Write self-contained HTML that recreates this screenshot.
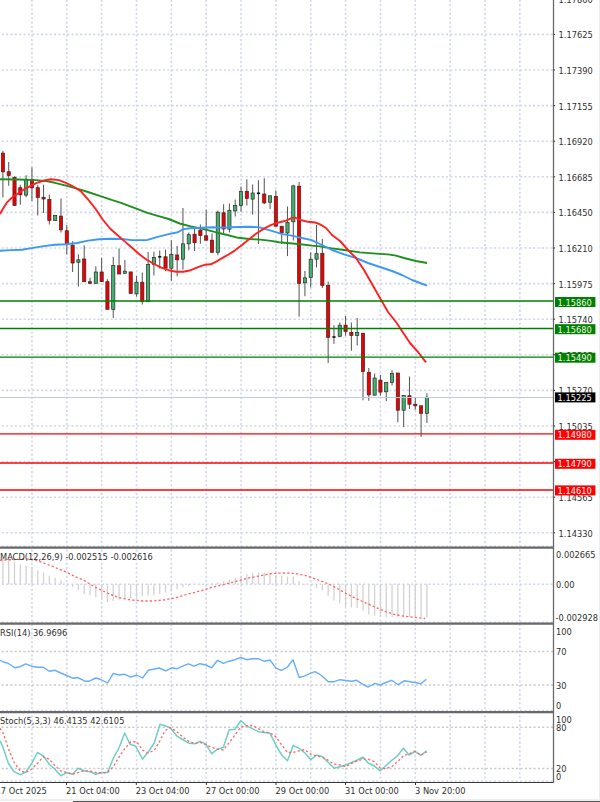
<!DOCTYPE html>
<html><head><meta charset="utf-8"><title>EURUSD H4</title>
<style>html,body{margin:0;padding:0;background:#fff;width:600px;height:802px;overflow:hidden}</style>
</head><body>
<svg width="600" height="802" viewBox="0 0 600 802" style="display:block"><rect x="0" y="0" width="600" height="802" fill="#ffffff"/><g stroke="#d0d7ea" stroke-width="1.6" fill="none"><line x1="0" y1="34.40" x2="553.0" y2="34.40" stroke-dasharray="2.1 2.255" stroke-dashoffset="2.6"/><line x1="0" y1="70.00" x2="553.0" y2="70.00" stroke-dasharray="2.1 2.255" stroke-dashoffset="2.6"/><line x1="0" y1="105.60" x2="553.0" y2="105.60" stroke-dasharray="2.1 2.255" stroke-dashoffset="2.6"/><line x1="0" y1="141.20" x2="553.0" y2="141.20" stroke-dasharray="2.1 2.255" stroke-dashoffset="2.6"/><line x1="0" y1="176.80" x2="553.0" y2="176.80" stroke-dasharray="2.1 2.255" stroke-dashoffset="2.6"/><line x1="0" y1="212.40" x2="553.0" y2="212.40" stroke-dasharray="2.1 2.255" stroke-dashoffset="2.6"/><line x1="0" y1="248.00" x2="553.0" y2="248.00" stroke-dasharray="2.1 2.255" stroke-dashoffset="2.6"/><line x1="0" y1="283.60" x2="553.0" y2="283.60" stroke-dasharray="2.1 2.255" stroke-dashoffset="2.6"/><line x1="0" y1="319.20" x2="553.0" y2="319.20" stroke-dasharray="2.1 2.255" stroke-dashoffset="2.6"/><line x1="0" y1="354.80" x2="553.0" y2="354.80" stroke-dasharray="2.1 2.255" stroke-dashoffset="2.6"/><line x1="0" y1="390.40" x2="553.0" y2="390.40" stroke-dasharray="2.1 2.255" stroke-dashoffset="2.6"/><line x1="0" y1="426.00" x2="553.0" y2="426.00" stroke-dasharray="2.1 2.255" stroke-dashoffset="2.6"/><line x1="0" y1="461.60" x2="553.0" y2="461.60" stroke-dasharray="2.1 2.255" stroke-dashoffset="2.6"/><line x1="0" y1="497.20" x2="553.0" y2="497.20" stroke-dasharray="2.1 2.255" stroke-dashoffset="2.6"/><line x1="0" y1="532.80" x2="553.0" y2="532.80" stroke-dasharray="2.1 2.255" stroke-dashoffset="2.6"/><line x1="31.95" y1="0" x2="31.95" y2="546" stroke-dasharray="2.1 2.264" stroke-dashoffset="0.27"/><line x1="31.95" y1="549" x2="31.95" y2="622" stroke-dasharray="2.1 2.264" stroke-dashoffset="3.77"/><line x1="31.95" y1="625" x2="31.95" y2="711" stroke-dasharray="2.1 2.264" stroke-dashoffset="1.22"/><line x1="31.95" y1="714" x2="31.95" y2="781" stroke-dasharray="2.1 2.264" stroke-dashoffset="2.94"/><line x1="66.80" y1="0" x2="66.80" y2="546" stroke-dasharray="2.1 2.264" stroke-dashoffset="0.27"/><line x1="66.80" y1="549" x2="66.80" y2="622" stroke-dasharray="2.1 2.264" stroke-dashoffset="3.77"/><line x1="66.80" y1="625" x2="66.80" y2="711" stroke-dasharray="2.1 2.264" stroke-dashoffset="1.22"/><line x1="66.80" y1="714" x2="66.80" y2="781" stroke-dasharray="2.1 2.264" stroke-dashoffset="2.94"/><line x1="101.65" y1="0" x2="101.65" y2="546" stroke-dasharray="2.1 2.264" stroke-dashoffset="0.27"/><line x1="101.65" y1="549" x2="101.65" y2="622" stroke-dasharray="2.1 2.264" stroke-dashoffset="3.77"/><line x1="101.65" y1="625" x2="101.65" y2="711" stroke-dasharray="2.1 2.264" stroke-dashoffset="1.22"/><line x1="101.65" y1="714" x2="101.65" y2="781" stroke-dasharray="2.1 2.264" stroke-dashoffset="2.94"/><line x1="136.50" y1="0" x2="136.50" y2="546" stroke-dasharray="2.1 2.264" stroke-dashoffset="0.27"/><line x1="136.50" y1="549" x2="136.50" y2="622" stroke-dasharray="2.1 2.264" stroke-dashoffset="3.77"/><line x1="136.50" y1="625" x2="136.50" y2="711" stroke-dasharray="2.1 2.264" stroke-dashoffset="1.22"/><line x1="136.50" y1="714" x2="136.50" y2="781" stroke-dasharray="2.1 2.264" stroke-dashoffset="2.94"/><line x1="171.35" y1="0" x2="171.35" y2="546" stroke-dasharray="2.1 2.264" stroke-dashoffset="0.27"/><line x1="171.35" y1="549" x2="171.35" y2="622" stroke-dasharray="2.1 2.264" stroke-dashoffset="3.77"/><line x1="171.35" y1="625" x2="171.35" y2="711" stroke-dasharray="2.1 2.264" stroke-dashoffset="1.22"/><line x1="171.35" y1="714" x2="171.35" y2="781" stroke-dasharray="2.1 2.264" stroke-dashoffset="2.94"/><line x1="206.20" y1="0" x2="206.20" y2="546" stroke-dasharray="2.1 2.264" stroke-dashoffset="0.27"/><line x1="206.20" y1="549" x2="206.20" y2="622" stroke-dasharray="2.1 2.264" stroke-dashoffset="3.77"/><line x1="206.20" y1="625" x2="206.20" y2="711" stroke-dasharray="2.1 2.264" stroke-dashoffset="1.22"/><line x1="206.20" y1="714" x2="206.20" y2="781" stroke-dasharray="2.1 2.264" stroke-dashoffset="2.94"/><line x1="241.05" y1="0" x2="241.05" y2="546" stroke-dasharray="2.1 2.264" stroke-dashoffset="0.27"/><line x1="241.05" y1="549" x2="241.05" y2="622" stroke-dasharray="2.1 2.264" stroke-dashoffset="3.77"/><line x1="241.05" y1="625" x2="241.05" y2="711" stroke-dasharray="2.1 2.264" stroke-dashoffset="1.22"/><line x1="241.05" y1="714" x2="241.05" y2="781" stroke-dasharray="2.1 2.264" stroke-dashoffset="2.94"/><line x1="275.90" y1="0" x2="275.90" y2="546" stroke-dasharray="2.1 2.264" stroke-dashoffset="0.27"/><line x1="275.90" y1="549" x2="275.90" y2="622" stroke-dasharray="2.1 2.264" stroke-dashoffset="3.77"/><line x1="275.90" y1="625" x2="275.90" y2="711" stroke-dasharray="2.1 2.264" stroke-dashoffset="1.22"/><line x1="275.90" y1="714" x2="275.90" y2="781" stroke-dasharray="2.1 2.264" stroke-dashoffset="2.94"/><line x1="310.75" y1="0" x2="310.75" y2="546" stroke-dasharray="2.1 2.264" stroke-dashoffset="0.27"/><line x1="310.75" y1="549" x2="310.75" y2="622" stroke-dasharray="2.1 2.264" stroke-dashoffset="3.77"/><line x1="310.75" y1="625" x2="310.75" y2="711" stroke-dasharray="2.1 2.264" stroke-dashoffset="1.22"/><line x1="310.75" y1="714" x2="310.75" y2="781" stroke-dasharray="2.1 2.264" stroke-dashoffset="2.94"/><line x1="345.60" y1="0" x2="345.60" y2="546" stroke-dasharray="2.1 2.264" stroke-dashoffset="0.27"/><line x1="345.60" y1="549" x2="345.60" y2="622" stroke-dasharray="2.1 2.264" stroke-dashoffset="3.77"/><line x1="345.60" y1="625" x2="345.60" y2="711" stroke-dasharray="2.1 2.264" stroke-dashoffset="1.22"/><line x1="345.60" y1="714" x2="345.60" y2="781" stroke-dasharray="2.1 2.264" stroke-dashoffset="2.94"/><line x1="380.45" y1="0" x2="380.45" y2="546" stroke-dasharray="2.1 2.264" stroke-dashoffset="0.27"/><line x1="380.45" y1="549" x2="380.45" y2="622" stroke-dasharray="2.1 2.264" stroke-dashoffset="3.77"/><line x1="380.45" y1="625" x2="380.45" y2="711" stroke-dasharray="2.1 2.264" stroke-dashoffset="1.22"/><line x1="380.45" y1="714" x2="380.45" y2="781" stroke-dasharray="2.1 2.264" stroke-dashoffset="2.94"/><line x1="415.30" y1="0" x2="415.30" y2="546" stroke-dasharray="2.1 2.264" stroke-dashoffset="0.27"/><line x1="415.30" y1="549" x2="415.30" y2="622" stroke-dasharray="2.1 2.264" stroke-dashoffset="3.77"/><line x1="415.30" y1="625" x2="415.30" y2="711" stroke-dasharray="2.1 2.264" stroke-dashoffset="1.22"/><line x1="415.30" y1="714" x2="415.30" y2="781" stroke-dasharray="2.1 2.264" stroke-dashoffset="2.94"/><line x1="450.15" y1="0" x2="450.15" y2="546" stroke-dasharray="2.1 2.264" stroke-dashoffset="0.27"/><line x1="450.15" y1="549" x2="450.15" y2="622" stroke-dasharray="2.1 2.264" stroke-dashoffset="3.77"/><line x1="450.15" y1="625" x2="450.15" y2="711" stroke-dasharray="2.1 2.264" stroke-dashoffset="1.22"/><line x1="450.15" y1="714" x2="450.15" y2="781" stroke-dasharray="2.1 2.264" stroke-dashoffset="2.94"/><line x1="485.00" y1="0" x2="485.00" y2="546" stroke-dasharray="2.1 2.264" stroke-dashoffset="0.27"/><line x1="485.00" y1="549" x2="485.00" y2="622" stroke-dasharray="2.1 2.264" stroke-dashoffset="3.77"/><line x1="485.00" y1="625" x2="485.00" y2="711" stroke-dasharray="2.1 2.264" stroke-dashoffset="1.22"/><line x1="485.00" y1="714" x2="485.00" y2="781" stroke-dasharray="2.1 2.264" stroke-dashoffset="2.94"/><line x1="519.85" y1="0" x2="519.85" y2="546" stroke-dasharray="2.1 2.264" stroke-dashoffset="0.27"/><line x1="519.85" y1="549" x2="519.85" y2="622" stroke-dasharray="2.1 2.264" stroke-dashoffset="3.77"/><line x1="519.85" y1="625" x2="519.85" y2="711" stroke-dasharray="2.1 2.264" stroke-dashoffset="1.22"/><line x1="519.85" y1="714" x2="519.85" y2="781" stroke-dasharray="2.1 2.264" stroke-dashoffset="2.94"/><line x1="0" y1="546.2" x2="553.0" y2="546.2" stroke-dasharray="2.1 2.255" stroke-dashoffset="2.6"/><line x1="0" y1="622.2" x2="553.0" y2="622.2" stroke-dasharray="2.1 2.255" stroke-dashoffset="2.6"/><line x1="0" y1="710.6" x2="553.0" y2="710.6" stroke-dasharray="2.1 2.255" stroke-dashoffset="2.6"/><line x1="0" y1="781.3" x2="553.0" y2="781.3" stroke-dasharray="2.1 2.255" stroke-dashoffset="2.6"/><line x1="0" y1="584.3" x2="553.0" y2="584.3" stroke-dasharray="2.1 2.255" stroke-dashoffset="2.6"/></g><g stroke="#cacaca" stroke-width="1.5" stroke-dasharray="2.1 2.26" stroke-dashoffset="2.8" fill="none"><line x1="0" y1="651.4" x2="553.0" y2="651.4"/><line x1="0" y1="685.1" x2="553.0" y2="685.1"/><line x1="0" y1="727.2" x2="553.0" y2="727.2"/><line x1="0" y1="768.4" x2="553.0" y2="768.4"/></g><line x1="2.90" y1="151" x2="2.90" y2="197.5" stroke="#5a5a5a" stroke-width="1.05"/><line x1="8.71" y1="161.9" x2="8.71" y2="185.7" stroke="#5a5a5a" stroke-width="1.05"/><line x1="14.52" y1="176.3" x2="14.52" y2="205.5" stroke="#5a5a5a" stroke-width="1.05"/><line x1="20.32" y1="184.7" x2="20.32" y2="204.7" stroke="#5a5a5a" stroke-width="1.05"/><line x1="26.13" y1="175.2" x2="26.13" y2="197.3" stroke="#5a5a5a" stroke-width="1.05"/><line x1="31.94" y1="167.6" x2="31.94" y2="201.1" stroke="#5a5a5a" stroke-width="1.05"/><line x1="37.75" y1="185" x2="37.75" y2="215.6" stroke="#5a5a5a" stroke-width="1.05"/><line x1="43.56" y1="184.8" x2="43.56" y2="213.1" stroke="#5a5a5a" stroke-width="1.05"/><line x1="49.36" y1="194.4" x2="49.36" y2="224.4" stroke="#5a5a5a" stroke-width="1.05"/><line x1="55.17" y1="215" x2="55.17" y2="221" stroke="#5a5a5a" stroke-width="1.05"/><line x1="60.98" y1="198.6" x2="60.98" y2="232.6" stroke="#5a5a5a" stroke-width="1.05"/><line x1="66.79" y1="225" x2="66.79" y2="254.2" stroke="#5a5a5a" stroke-width="1.05"/><line x1="72.60" y1="241.2" x2="72.60" y2="272" stroke="#5a5a5a" stroke-width="1.05"/><line x1="78.40" y1="254.2" x2="78.40" y2="286.6" stroke="#5a5a5a" stroke-width="1.05"/><line x1="84.21" y1="245.2" x2="84.21" y2="281.7" stroke="#5a5a5a" stroke-width="1.05"/><line x1="90.02" y1="277.7" x2="90.02" y2="284" stroke="#5a5a5a" stroke-width="1.05"/><line x1="95.83" y1="266.3" x2="95.83" y2="283.3" stroke="#5a5a5a" stroke-width="1.05"/><line x1="101.64" y1="257.9" x2="101.64" y2="281.7" stroke="#5a5a5a" stroke-width="1.05"/><line x1="107.44" y1="279.3" x2="107.44" y2="309.3" stroke="#5a5a5a" stroke-width="1.05"/><line x1="113.25" y1="256.8" x2="113.25" y2="317.9" stroke="#5a5a5a" stroke-width="1.05"/><line x1="119.06" y1="248.6" x2="119.06" y2="274" stroke="#5a5a5a" stroke-width="1.05"/><line x1="124.87" y1="260" x2="124.87" y2="273.3" stroke="#5a5a5a" stroke-width="1.05"/><line x1="130.68" y1="271.9" x2="130.68" y2="293.5" stroke="#5a5a5a" stroke-width="1.05"/><line x1="136.48" y1="276" x2="136.48" y2="296.6" stroke="#5a5a5a" stroke-width="1.05"/><line x1="142.29" y1="272.6" x2="142.29" y2="304.4" stroke="#5a5a5a" stroke-width="1.05"/><line x1="148.10" y1="252" x2="148.10" y2="301.7" stroke="#5a5a5a" stroke-width="1.05"/><line x1="153.91" y1="251.8" x2="153.91" y2="275.4" stroke="#5a5a5a" stroke-width="1.05"/><line x1="159.72" y1="250.4" x2="159.72" y2="268.5" stroke="#5a5a5a" stroke-width="1.05"/><line x1="165.52" y1="249.6" x2="165.52" y2="271.2" stroke="#5a5a5a" stroke-width="1.05"/><line x1="171.33" y1="240.2" x2="171.33" y2="280.8" stroke="#5a5a5a" stroke-width="1.05"/><line x1="177.14" y1="246.1" x2="177.14" y2="276.3" stroke="#5a5a5a" stroke-width="1.05"/><line x1="182.95" y1="208.1" x2="182.95" y2="269.5" stroke="#5a5a5a" stroke-width="1.05"/><line x1="188.76" y1="232.4" x2="188.76" y2="250.2" stroke="#5a5a5a" stroke-width="1.05"/><line x1="194.56" y1="227.6" x2="194.56" y2="250.9" stroke="#5a5a5a" stroke-width="1.05"/><line x1="200.37" y1="224.6" x2="200.37" y2="243.8" stroke="#5a5a5a" stroke-width="1.05"/><line x1="206.18" y1="209.8" x2="206.18" y2="240.2" stroke="#5a5a5a" stroke-width="1.05"/><line x1="211.99" y1="233.4" x2="211.99" y2="252.3" stroke="#5a5a5a" stroke-width="1.05"/><line x1="217.80" y1="210.5" x2="217.80" y2="255.3" stroke="#5a5a5a" stroke-width="1.05"/><line x1="223.60" y1="204.3" x2="223.60" y2="233.1" stroke="#5a5a5a" stroke-width="1.05"/><line x1="229.41" y1="203.6" x2="229.41" y2="232.4" stroke="#5a5a5a" stroke-width="1.05"/><line x1="235.22" y1="199.5" x2="235.22" y2="216.6" stroke="#5a5a5a" stroke-width="1.05"/><line x1="241.03" y1="186.5" x2="241.03" y2="211.8" stroke="#5a5a5a" stroke-width="1.05"/><line x1="246.84" y1="179.3" x2="246.84" y2="205.4" stroke="#5a5a5a" stroke-width="1.05"/><line x1="252.64" y1="184.4" x2="252.64" y2="214.6" stroke="#5a5a5a" stroke-width="1.05"/><line x1="258.45" y1="180.3" x2="258.45" y2="244.1" stroke="#5a5a5a" stroke-width="1.05"/><line x1="264.26" y1="178.2" x2="264.26" y2="204.3" stroke="#5a5a5a" stroke-width="1.05"/><line x1="270.07" y1="195.8" x2="270.07" y2="209.1" stroke="#5a5a5a" stroke-width="1.05"/><line x1="275.88" y1="190.6" x2="275.88" y2="226.2" stroke="#5a5a5a" stroke-width="1.05"/><line x1="281.68" y1="226" x2="281.68" y2="244.1" stroke="#5a5a5a" stroke-width="1.05"/><line x1="287.49" y1="206.5" x2="287.49" y2="256.1" stroke="#5a5a5a" stroke-width="1.05"/><line x1="293.30" y1="184.7" x2="293.30" y2="240.5" stroke="#5a5a5a" stroke-width="1.05"/><line x1="299.11" y1="182" x2="299.11" y2="316.7" stroke="#5a5a5a" stroke-width="1.05"/><line x1="304.92" y1="271" x2="304.92" y2="296.2" stroke="#5a5a5a" stroke-width="1.05"/><line x1="310.72" y1="252.2" x2="310.72" y2="287.5" stroke="#5a5a5a" stroke-width="1.05"/><line x1="316.53" y1="224.9" x2="316.53" y2="267.6" stroke="#5a5a5a" stroke-width="1.05"/><line x1="322.34" y1="238.9" x2="322.34" y2="288" stroke="#5a5a5a" stroke-width="1.05"/><line x1="328.15" y1="281.4" x2="328.15" y2="362.9" stroke="#5a5a5a" stroke-width="1.05"/><line x1="333.96" y1="325.2" x2="333.96" y2="343.8" stroke="#5a5a5a" stroke-width="1.05"/><line x1="339.76" y1="322.6" x2="339.76" y2="337.3" stroke="#5a5a5a" stroke-width="1.05"/><line x1="345.57" y1="316" x2="345.57" y2="335.7" stroke="#5a5a5a" stroke-width="1.05"/><line x1="351.38" y1="322.6" x2="351.38" y2="350.7" stroke="#5a5a5a" stroke-width="1.05"/><line x1="357.19" y1="318" x2="357.19" y2="345.5" stroke="#5a5a5a" stroke-width="1.05"/><line x1="363.00" y1="333" x2="363.00" y2="400.3" stroke="#5a5a5a" stroke-width="1.05"/><line x1="368.80" y1="368" x2="368.80" y2="400.8" stroke="#5a5a5a" stroke-width="1.05"/><line x1="374.61" y1="373.4" x2="374.61" y2="395.2" stroke="#5a5a5a" stroke-width="1.05"/><line x1="380.42" y1="374.9" x2="380.42" y2="395.7" stroke="#5a5a5a" stroke-width="1.05"/><line x1="386.23" y1="382.4" x2="386.23" y2="401.1" stroke="#5a5a5a" stroke-width="1.05"/><line x1="392.04" y1="370.2" x2="392.04" y2="385.5" stroke="#5a5a5a" stroke-width="1.05"/><line x1="397.84" y1="373" x2="397.84" y2="422.2" stroke="#5a5a5a" stroke-width="1.05"/><line x1="403.65" y1="395.4" x2="403.65" y2="426.9" stroke="#5a5a5a" stroke-width="1.05"/><line x1="409.46" y1="376.5" x2="409.46" y2="408.9" stroke="#5a5a5a" stroke-width="1.05"/><line x1="415.27" y1="398" x2="415.27" y2="409.7" stroke="#5a5a5a" stroke-width="1.05"/><line x1="421.08" y1="405.8" x2="421.08" y2="437" stroke="#5a5a5a" stroke-width="1.05"/><line x1="426.88" y1="393.3" x2="426.88" y2="423" stroke="#5a5a5a" stroke-width="1.05"/><rect x="1.30" y="153.10" width="3.2" height="18.80" fill="#ee0000" stroke="#3a2424" stroke-width="0.7"/><rect x="7.11" y="171.70" width="3.2" height="3.70" fill="#ee0000" stroke="#3a2424" stroke-width="0.7"/><rect x="12.92" y="177.30" width="3.2" height="28.20" fill="#ee0000" stroke="#3a2424" stroke-width="0.7"/><rect x="18.72" y="187.70" width="3.2" height="7.10" fill="#ee0000" stroke="#3a2424" stroke-width="0.7"/><rect x="24.53" y="179.30" width="3.2" height="15.80" fill="#3cb371" stroke="#3a2424" stroke-width="0.7"/><rect x="30.34" y="179.30" width="3.2" height="8.50" fill="#ee0000" stroke="#3a2424" stroke-width="0.7"/><rect x="36.15" y="187.70" width="3.2" height="9.70" fill="#ee0000" stroke="#3a2424" stroke-width="0.7"/><rect x="41.96" y="197.30" width="3.2" height="1.70" fill="#ee0000" stroke="#3a2424" stroke-width="0.7"/><rect x="47.76" y="199.40" width="3.2" height="21.20" fill="#ee0000" stroke="#3a2424" stroke-width="0.7"/><rect x="53.57" y="215.30" width="3.2" height="5.30" fill="#3cb371" stroke="#3a2424" stroke-width="0.7"/><rect x="59.38" y="216.10" width="3.2" height="13.70" fill="#ee0000" stroke="#3a2424" stroke-width="0.7"/><rect x="65.19" y="230.70" width="3.2" height="12.90" fill="#ee0000" stroke="#3a2424" stroke-width="0.7"/><rect x="71.00" y="245.20" width="3.2" height="17.80" fill="#ee0000" stroke="#3a2424" stroke-width="0.7"/><rect x="76.80" y="259.80" width="3.2" height="2.50" fill="#3cb371" stroke="#3a2424" stroke-width="0.7"/><rect x="82.61" y="259.00" width="3.2" height="22.70" fill="#ee0000" stroke="#3a2424" stroke-width="0.7"/><rect x="88.42" y="281.70" width="3.2" height="1.60" fill="#ee0000" stroke="#3a2424" stroke-width="0.7"/><rect x="94.23" y="272.00" width="3.2" height="11.30" fill="#3cb371" stroke="#3a2424" stroke-width="0.7"/><rect x="100.04" y="272.00" width="3.2" height="9.70" fill="#ee0000" stroke="#3a2424" stroke-width="0.7"/><rect x="105.84" y="281.70" width="3.2" height="27.60" fill="#ee0000" stroke="#3a2424" stroke-width="0.7"/><rect x="111.65" y="265.50" width="3.2" height="43.90" fill="#3cb371" stroke="#3a2424" stroke-width="0.7"/><rect x="117.46" y="265.80" width="3.2" height="8.20" fill="#ee0000" stroke="#3a2424" stroke-width="0.7"/><rect x="123.27" y="271.20" width="3.2" height="2.10" fill="#3cb371" stroke="#3a2424" stroke-width="0.7"/><rect x="129.08" y="271.90" width="3.2" height="21.60" fill="#ee0000" stroke="#3a2424" stroke-width="0.7"/><rect x="134.88" y="282.20" width="3.2" height="11.70" fill="#3cb371" stroke="#3a2424" stroke-width="0.7"/><rect x="140.69" y="282.20" width="3.2" height="19.50" fill="#ee0000" stroke="#3a2424" stroke-width="0.7"/><rect x="146.50" y="264.40" width="3.2" height="37.30" fill="#3cb371" stroke="#3a2424" stroke-width="0.7"/><rect x="152.31" y="257.50" width="3.2" height="6.90" fill="#3cb371" stroke="#3a2424" stroke-width="0.7"/><line x1="158.12" y1="256.8" x2="161.32" y2="256.8" stroke="#1a1a1a" stroke-width="1.7"/><rect x="163.92" y="256.80" width="3.2" height="11.40" fill="#ee0000" stroke="#3a2424" stroke-width="0.7"/><rect x="169.73" y="254.50" width="3.2" height="13.70" fill="#3cb371" stroke="#3a2424" stroke-width="0.7"/><rect x="175.54" y="255.00" width="3.2" height="4.80" fill="#ee0000" stroke="#3a2424" stroke-width="0.7"/><rect x="181.35" y="243.80" width="3.2" height="15.40" fill="#3cb371" stroke="#3a2424" stroke-width="0.7"/><rect x="187.16" y="234.70" width="3.2" height="9.10" fill="#3cb371" stroke="#3a2424" stroke-width="0.7"/><rect x="192.96" y="234.20" width="3.2" height="8.50" fill="#ee0000" stroke="#3a2424" stroke-width="0.7"/><rect x="198.77" y="230.10" width="3.2" height="5.50" fill="#ee0000" stroke="#3a2424" stroke-width="0.7"/><rect x="204.58" y="235.80" width="3.2" height="4.40" fill="#ee0000" stroke="#3a2424" stroke-width="0.7"/><rect x="210.39" y="240.20" width="3.2" height="12.10" fill="#ee0000" stroke="#3a2424" stroke-width="0.7"/><rect x="216.20" y="212.20" width="3.2" height="40.10" fill="#3cb371" stroke="#3a2424" stroke-width="0.7"/><rect x="222.00" y="212.80" width="3.2" height="16.20" fill="#ee0000" stroke="#3a2424" stroke-width="0.7"/><rect x="227.81" y="210.30" width="3.2" height="18.90" fill="#3cb371" stroke="#3a2424" stroke-width="0.7"/><rect x="233.62" y="205.40" width="3.2" height="5.50" fill="#3cb371" stroke="#3a2424" stroke-width="0.7"/><rect x="239.43" y="191.30" width="3.2" height="14.10" fill="#3cb371" stroke="#3a2424" stroke-width="0.7"/><rect x="245.24" y="191.30" width="3.2" height="7.20" fill="#ee0000" stroke="#3a2424" stroke-width="0.7"/><rect x="251.04" y="193.00" width="3.2" height="6.10" fill="#3cb371" stroke="#3a2424" stroke-width="0.7"/><line x1="256.85" y1="193.3" x2="260.05" y2="193.3" stroke="#1a1a1a" stroke-width="1.7"/><rect x="262.66" y="194.00" width="3.2" height="8.90" fill="#ee0000" stroke="#3a2424" stroke-width="0.7"/><rect x="268.47" y="195.80" width="3.2" height="6.40" fill="#3cb371" stroke="#3a2424" stroke-width="0.7"/><rect x="274.28" y="196.30" width="3.2" height="29.90" fill="#ee0000" stroke="#3a2424" stroke-width="0.7"/><rect x="280.08" y="226.20" width="3.2" height="6.60" fill="#ee0000" stroke="#3a2424" stroke-width="0.7"/><rect x="285.89" y="222.30" width="3.2" height="10.70" fill="#3cb371" stroke="#3a2424" stroke-width="0.7"/><rect x="291.70" y="185.90" width="3.2" height="35.90" fill="#3cb371" stroke="#3a2424" stroke-width="0.7"/><rect x="297.51" y="186.20" width="3.2" height="97.10" fill="#ee0000" stroke="#3a2424" stroke-width="0.7"/><rect x="303.32" y="277.80" width="3.2" height="5.00" fill="#3cb371" stroke="#3a2424" stroke-width="0.7"/><rect x="309.12" y="259.20" width="3.2" height="18.40" fill="#3cb371" stroke="#3a2424" stroke-width="0.7"/><rect x="314.93" y="253.70" width="3.2" height="5.50" fill="#3cb371" stroke="#3a2424" stroke-width="0.7"/><rect x="320.74" y="253.30" width="3.2" height="32.20" fill="#ee0000" stroke="#3a2424" stroke-width="0.7"/><rect x="326.55" y="285.30" width="3.2" height="52.00" fill="#ee0000" stroke="#3a2424" stroke-width="0.7"/><line x1="332.36" y1="337" x2="335.56" y2="337" stroke="#1a1a1a" stroke-width="1.7"/><rect x="338.16" y="325.20" width="3.2" height="11.10" fill="#3cb371" stroke="#3a2424" stroke-width="0.7"/><rect x="343.97" y="325.20" width="3.2" height="6.30" fill="#ee0000" stroke="#3a2424" stroke-width="0.7"/><rect x="349.78" y="332.40" width="3.2" height="3.00" fill="#ee0000" stroke="#3a2424" stroke-width="0.7"/><rect x="355.59" y="332.40" width="3.2" height="3.00" fill="#3cb371" stroke="#3a2424" stroke-width="0.7"/><rect x="361.40" y="333.20" width="3.2" height="38.30" fill="#ee0000" stroke="#3a2424" stroke-width="0.7"/><rect x="367.20" y="372.30" width="3.2" height="22.60" fill="#ee0000" stroke="#3a2424" stroke-width="0.7"/><rect x="373.01" y="378.00" width="3.2" height="17.20" fill="#3cb371" stroke="#3a2424" stroke-width="0.7"/><rect x="378.82" y="380.10" width="3.2" height="12.00" fill="#ee0000" stroke="#3a2424" stroke-width="0.7"/><rect x="384.63" y="382.40" width="3.2" height="9.40" fill="#3cb371" stroke="#3a2424" stroke-width="0.7"/><rect x="390.44" y="373.40" width="3.2" height="9.00" fill="#3cb371" stroke="#3a2424" stroke-width="0.7"/><rect x="396.24" y="373.00" width="3.2" height="37.20" fill="#ee0000" stroke="#3a2424" stroke-width="0.7"/><rect x="402.05" y="395.40" width="3.2" height="14.80" fill="#3cb371" stroke="#3a2424" stroke-width="0.7"/><rect x="407.86" y="395.70" width="3.2" height="8.50" fill="#ee0000" stroke="#3a2424" stroke-width="0.7"/><rect x="413.67" y="404.20" width="3.2" height="1.60" fill="#ee0000" stroke="#3a2424" stroke-width="0.7"/><rect x="419.48" y="405.80" width="3.2" height="7.50" fill="#ee0000" stroke="#3a2424" stroke-width="0.7"/><rect x="425.28" y="397.20" width="3.2" height="16.10" fill="#3cb371" stroke="#3a2424" stroke-width="0.7"/><polyline points="0.0,179.2 18.3,179.5 36.7,180.1 47.7,181.4 55.0,182.8 66.0,185.6 77.0,188.7 88.0,192.0 99.0,195.7 110.0,199.3 121.0,202.9 135.7,208.4 146.7,212.6 157.7,215.8 168.7,219.0 179.7,223.5 190.7,226.4 201.7,228.6 212.7,231.3 220.0,233.3 227.3,235.0 238.3,237.8 249.3,239.0 260.3,239.6 271.3,240.9 278.7,242.3 289.7,243.3 300.7,244.2 311.7,245.6 320.0,246.4 332.0,248.4 344.0,250.0 360.0,252.4 376.0,253.6 388.0,254.4 396.0,255.6 404.0,258.0 416.0,261.0 427.0,263.0" fill="none" stroke="#1f8f1f" stroke-width="1.9" stroke-linejoin="round"/><polyline points="0.0,250.7 11.0,250.1 22.0,249.8 33.0,247.9 44.0,246.1 55.0,244.8 66.0,244.3 77.0,243.0 88.0,240.6 99.0,239.3 110.0,238.8 121.0,239.0 132.0,240.1 146.7,240.1 157.7,236.8 168.7,234.1 177.8,232.3 183.3,229.1 190.7,228.2 201.7,227.7 212.7,227.3 220.0,227.6 231.0,227.3 247.5,226.8 258.5,227.1 265.8,229.1 275.0,231.9 282.3,234.1 293.3,235.9 300.7,237.8 311.7,240.1 320.0,244.0 332.0,250.0 344.0,254.4 356.0,258.0 368.0,263.0 380.0,267.0 392.0,271.0 402.0,275.0 412.0,280.0 420.0,283.0 427.0,285.6" fill="none" stroke="#3d98f5" stroke-width="1.9" stroke-linejoin="round"/><polyline points="0.0,214.0 3.7,207.6 7.3,202.1 11.0,198.4 14.7,195.7 20.2,192.0 25.7,188.3 31.2,185.6 36.7,182.8 44.0,180.5 51.3,179.2 58.7,180.1 66.0,182.8 73.3,186.5 80.7,191.1 88.0,199.3 95.3,208.5 102.7,219.5 110.0,228.5 117.3,235.0 124.7,241.4 132.0,247.8 139.3,254.3 146.7,259.8 154.0,264.0 161.3,267.6 168.7,270.2 176.0,271.7 183.3,271.7 190.7,270.2 198.0,267.1 205.3,264.7 210.8,264.3 216.3,261.6 220.0,259.3 227.3,255.2 234.7,250.6 242.0,245.1 249.3,239.0 256.7,233.2 264.0,228.6 271.3,224.9 278.7,222.5 286.0,220.7 291.5,218.1 295.2,217.6 300.7,220.0 308.0,221.8 315.3,222.5 320.0,224.4 326.0,228.0 332.0,235.0 340.0,241.0 348.0,250.0 356.0,258.0 364.0,270.0 372.0,284.0 380.0,298.0 388.0,312.0 396.0,322.0 404.0,334.0 410.0,343.0 418.0,352.0 426.0,362.4" fill="none" stroke="#ff2020" stroke-width="1.9" stroke-linejoin="round"/><line x1="0" y1="301" x2="553.5" y2="301" stroke="#008000" stroke-width="1.45"/><line x1="0" y1="328.5" x2="553.5" y2="328.5" stroke="#008000" stroke-width="1.45"/><line x1="0" y1="357.1" x2="553.5" y2="357.1" stroke="#008000" stroke-width="1.45"/><line x1="0" y1="433.85" x2="553.5" y2="433.85" stroke="#ff0000" stroke-width="1.45"/><line x1="0" y1="463.0" x2="553.5" y2="463.0" stroke="#ff0000" stroke-width="1.45"/><line x1="0" y1="490.0" x2="553.5" y2="490.0" stroke="#ff0000" stroke-width="1.45"/><line x1="0" y1="397.5" x2="553.5" y2="397.5" stroke="#b9cbe6" stroke-width="1"/><g stroke="#d2d2d2" stroke-width="1.3"><line x1="2.9" y1="584.2" x2="2.9" y2="557.7"/><line x1="8.71" y1="584.2" x2="8.71" y2="557.5"/><line x1="14.52" y1="584.2" x2="14.52" y2="561.7"/><line x1="20.32" y1="584.2" x2="20.32" y2="564.6"/><line x1="26.13" y1="584.2" x2="26.13" y2="566"/><line x1="31.94" y1="584.2" x2="31.94" y2="567"/><line x1="37.75" y1="584.2" x2="37.75" y2="570.3"/><line x1="43.56" y1="584.2" x2="43.56" y2="572.6"/><line x1="49.36" y1="584.2" x2="49.36" y2="575.7"/><line x1="55.17" y1="584.2" x2="55.17" y2="577.7"/><line x1="60.98" y1="584.2" x2="60.98" y2="580.3"/><line x1="66.79" y1="584.2" x2="66.79" y2="583.8"/><line x1="72.6" y1="584.2" x2="72.6" y2="587.2"/><line x1="78.4" y1="584.2" x2="78.4" y2="590.1"/><line x1="84.21" y1="584.2" x2="84.21" y2="594"/><line x1="90.02" y1="584.2" x2="90.02" y2="595.2"/><line x1="95.83" y1="584.2" x2="95.83" y2="597.5"/><line x1="101.64" y1="584.2" x2="101.64" y2="599.8"/><line x1="107.44" y1="584.2" x2="107.44" y2="602.2"/><line x1="113.25" y1="584.2" x2="113.25" y2="601"/><line x1="119.06" y1="584.2" x2="119.06" y2="599.8"/><line x1="124.87" y1="584.2" x2="124.87" y2="599"/><line x1="130.68" y1="584.2" x2="130.68" y2="598.2"/><line x1="136.48" y1="584.2" x2="136.48" y2="597.5"/><line x1="142.29" y1="584.2" x2="142.29" y2="596.3"/><line x1="148.1" y1="584.2" x2="148.1" y2="595.8"/><line x1="153.91" y1="584.2" x2="153.91" y2="595.2"/><line x1="159.72" y1="584.2" x2="159.72" y2="594"/><line x1="165.52" y1="584.2" x2="165.52" y2="592.8"/><line x1="171.33" y1="584.2" x2="171.33" y2="591.6"/><line x1="177.14" y1="584.2" x2="177.14" y2="589.3"/><line x1="182.95" y1="584.2" x2="182.95" y2="587"/><line x1="188.76" y1="584.2" x2="188.76" y2="586"/><line x1="194.56" y1="584.2" x2="194.56" y2="585.1"/><line x1="200.37" y1="584.2" x2="200.37" y2="584.5"/><line x1="206.18" y1="584.2" x2="206.18" y2="584"/><line x1="211.99" y1="584.2" x2="211.99" y2="583.5"/><line x1="217.8" y1="584.2" x2="217.8" y2="582.3"/><line x1="223.6" y1="584.2" x2="223.6" y2="581.2"/><line x1="229.41" y1="584.2" x2="229.41" y2="579.5"/><line x1="235.22" y1="584.2" x2="235.22" y2="577.7"/><line x1="241.03" y1="584.2" x2="241.03" y2="575.8"/><line x1="246.84" y1="584.2" x2="246.84" y2="574.2"/><line x1="252.64" y1="584.2" x2="252.64" y2="573"/><line x1="258.45" y1="584.2" x2="258.45" y2="572.5"/><line x1="264.26" y1="584.2" x2="264.26" y2="572.5"/><line x1="270.07" y1="584.2" x2="270.07" y2="573"/><line x1="275.88" y1="584.2" x2="275.88" y2="575.3"/><line x1="281.68" y1="584.2" x2="281.68" y2="575.3"/><line x1="287.49" y1="584.2" x2="287.49" y2="576.5"/><line x1="293.3" y1="584.2" x2="293.3" y2="576.5"/><line x1="299.11" y1="584.2" x2="299.11" y2="581.2"/><line x1="304.92" y1="584.2" x2="304.92" y2="585"/><line x1="310.72" y1="584.2" x2="310.72" y2="585.8"/><line x1="316.53" y1="584.2" x2="316.53" y2="588.2"/><line x1="322.34" y1="584.2" x2="322.34" y2="590.5"/><line x1="328.15" y1="584.2" x2="328.15" y2="596"/><line x1="333.96" y1="584.2" x2="333.96" y2="600.5"/><line x1="339.76" y1="584.2" x2="339.76" y2="602.9"/><line x1="345.57" y1="584.2" x2="345.57" y2="606.1"/><line x1="351.38" y1="584.2" x2="351.38" y2="607.5"/><line x1="357.19" y1="584.2" x2="357.19" y2="608"/><line x1="363.0" y1="584.2" x2="363.0" y2="610.8"/><line x1="368.8" y1="584.2" x2="368.8" y2="614.5"/><line x1="374.61" y1="584.2" x2="374.61" y2="615.5"/><line x1="380.42" y1="584.2" x2="380.42" y2="616.2"/><line x1="386.23" y1="584.2" x2="386.23" y2="617.3"/><line x1="392.04" y1="584.2" x2="392.04" y2="617.3"/><line x1="397.84" y1="584.2" x2="397.84" y2="617.3"/><line x1="403.65" y1="584.2" x2="403.65" y2="617.3"/><line x1="409.46" y1="584.2" x2="409.46" y2="617.3"/><line x1="415.27" y1="584.2" x2="415.27" y2="617.3"/><line x1="421.08" y1="584.2" x2="421.08" y2="617.3"/><line x1="426.88" y1="584.2" x2="426.88" y2="617.2"/></g><polyline points="0.0,560.3 15.0,559.5 28.0,559.0 36.0,560.3 40.0,561.7 50.7,565.7 58.7,569.0 66.7,572.3 77.3,577.7 83.3,580.0 95.0,587.0 106.7,592.8 118.3,597.5 130.0,599.8 141.7,601.0 153.3,601.0 165.0,599.8 176.7,597.5 188.3,594.0 201.7,590.5 213.3,587.0 225.0,584.2 236.7,581.2 248.3,578.1 260.0,575.8 271.7,573.5 283.3,573.0 295.0,573.5 306.7,575.8 318.3,580.0 329.3,584.2 338.7,589.3 348.0,594.5 357.3,599.1 366.7,603.3 376.0,607.5 385.3,611.5 394.7,614.5 404.0,616.2 413.3,617.3 425.0,618.5" fill="none" stroke="#ff6262" stroke-width="1.3" stroke-dasharray="2.2 2.2"/><polyline points="0.0,660.3 3.3,662.0 7.5,663.0 10.8,665.0 15.0,667.8 20.0,666.7 25.8,663.8 31.7,666.2 37.5,667.2 43.3,667.2 49.2,671.3 55.0,670.3 60.8,673.0 66.7,675.5 73.3,678.3 77.5,677.5 85.0,681.2 89.2,681.2 95.8,678.0 100.8,679.5 107.5,683.0 113.3,673.3 119.2,675.0 124.2,674.2 130.8,677.2 136.7,675.0 142.5,678.0 148.3,670.3 153.3,669.2 159.2,668.0 165.8,670.8 171.7,667.8 176.7,668.8 182.5,666.2 188.3,663.8 194.2,666.2 200.0,663.7 205.8,665.0 211.7,667.8 217.5,660.3 223.3,663.3 229.2,661.2 235.0,659.7 240.8,657.5 246.7,659.7 252.5,658.7 258.3,658.7 264.2,661.3 270.0,660.0 275.8,667.8 281.3,670.3 287.5,667.0 293.0,659.7 299.2,677.5 305.0,675.8 310.0,673.3 315.0,671.7 320.8,675.0 328.3,681.7 334.2,681.7 340.0,679.7 345.8,680.5 351.7,681.3 356.7,680.3 362.5,684.2 368.3,687.0 375.0,683.3 380.3,685.0 385.8,682.5 391.7,680.3 398.0,684.7 404.2,680.8 410.0,681.7 415.0,682.5 420.8,683.7 426.3,679.2" fill="none" stroke="#66aef8" stroke-width="1.4" stroke-linejoin="round"/><polyline points="0.0,740.8 2.5,745.8 8.3,763.3 14.2,771.7 20.0,774.7 25.8,772.0 31.7,763.3 37.5,752.5 43.3,755.8 49.2,764.2 55.0,769.2 60.8,775.8 66.7,772.5 72.5,774.2 78.3,768.3 84.2,770.8 90.0,771.7 95.8,774.2 100.8,772.5 107.5,772.5 113.3,758.3 119.2,747.5 124.7,733.0 130.0,744.2 135.8,746.3 142.5,759.2 148.3,751.7 154.2,743.3 160.0,724.2 166.7,726.3 170.8,728.3 176.7,735.8 183.3,740.0 189.2,743.3 195.0,743.7 200.3,741.3 205.8,744.2 211.7,753.7 217.5,749.2 223.3,747.5 229.2,729.7 235.0,729.2 240.8,720.8 246.7,725.8 252.5,728.7 258.3,731.7 264.2,732.5 270.0,733.3 275.8,745.0 281.7,755.0 287.5,760.8 293.3,745.3 299.2,748.3 305.0,753.0 310.8,759.7 316.7,755.0 322.5,756.7 328.3,762.5 334.2,768.3 340.0,766.7 345.8,765.0 351.7,762.5 357.5,760.0 363.0,757.0 368.3,763.3 374.2,765.8 380.3,770.8 385.8,765.8 391.7,760.3 397.5,755.8 403.3,748.3 409.2,755.0 415.0,751.3 420.8,755.3 426.7,750.8" fill="none" stroke="#70cec6" stroke-width="1.5" stroke-linejoin="round"/><polyline points="0.0,728.3 3.3,733.3 8.3,748.3 14.2,762.5 20.0,770.8 25.8,772.5 31.7,769.2 37.5,763.3 43.3,756.7 49.2,759.2 55.0,765.8 60.8,770.8 66.7,772.5 72.5,774.2 78.3,772.5 84.2,770.8 90.0,770.8 95.8,772.5 100.8,773.0 107.5,772.5 113.3,766.7 119.2,756.7 125.0,748.3 130.8,742.0 136.7,741.7 142.5,750.0 148.3,753.0 154.2,750.3 160.0,740.8 165.0,730.8 170.0,727.5 176.7,731.7 183.3,737.5 189.2,741.7 195.0,743.3 200.3,742.5 205.8,744.7 211.7,747.5 217.5,749.2 223.3,750.0 229.2,742.5 235.0,735.0 240.8,727.0 246.7,725.8 252.5,725.3 258.3,728.7 264.2,731.7 270.0,733.0 275.8,736.7 281.7,745.0 287.5,752.5 293.3,752.5 299.2,750.8 305.0,749.7 310.8,754.2 316.7,755.8 322.5,757.5 328.3,760.3 334.2,764.2 340.0,765.0 345.8,766.7 351.7,763.3 357.5,760.8 363.3,759.2 368.3,759.2 374.2,761.7 380.3,768.0 385.8,768.7 391.7,766.7 397.5,761.7 403.3,755.8 409.2,753.7 415.0,751.3 420.8,755.0 426.7,752.0" fill="none" stroke="#ff6262" stroke-width="1.3" stroke-dasharray="2.2 2.3"/><line x1="0" y1="547.55" x2="553.5" y2="547.55" stroke="#686868" stroke-width="2.3"/><line x1="0" y1="623.6" x2="553.5" y2="623.6" stroke="#686868" stroke-width="2.3"/><line x1="0" y1="712.2" x2="553.5" y2="712.2" stroke="#686868" stroke-width="2.3"/><line x1="0" y1="782.5" x2="554.0" y2="782.5" stroke="#3a3a3a" stroke-width="1"/><line x1="553.5" y1="0" x2="553.5" y2="783" stroke="#6a6a6a" stroke-width="1.3"/><rect x="599" y="0" width="1" height="802" fill="#ececec"/><rect x="0" y="799" width="600" height="2" fill="#efefef"/><rect x="73" y="801" width="527" height="1" fill="#555"/><g font-family='"DejaVu Sans Condensed", "DejaVu Sans", "Liberation Sans", sans-serif' font-size="9.2" fill="#303030"><text x="558.5" y="2.8">1.17860</text><line x1="553.5" y1="-1.20" x2="555.1" y2="-1.20" stroke="#333" stroke-width="1"/><text x="558.5" y="38.4">1.17625</text><line x1="553.5" y1="34.40" x2="555.1" y2="34.40" stroke="#333" stroke-width="1"/><text x="558.5" y="74.0">1.17390</text><line x1="553.5" y1="70.00" x2="555.1" y2="70.00" stroke="#333" stroke-width="1"/><text x="558.5" y="109.6">1.17155</text><line x1="553.5" y1="105.60" x2="555.1" y2="105.60" stroke="#333" stroke-width="1"/><text x="558.5" y="145.2">1.16920</text><line x1="553.5" y1="141.20" x2="555.1" y2="141.20" stroke="#333" stroke-width="1"/><text x="558.5" y="180.8">1.16685</text><line x1="553.5" y1="176.80" x2="555.1" y2="176.80" stroke="#333" stroke-width="1"/><text x="558.5" y="216.4">1.16450</text><line x1="553.5" y1="212.40" x2="555.1" y2="212.40" stroke="#333" stroke-width="1"/><text x="558.5" y="252.0">1.16210</text><line x1="553.5" y1="248.00" x2="555.1" y2="248.00" stroke="#333" stroke-width="1"/><text x="558.5" y="287.6">1.15975</text><line x1="553.5" y1="283.60" x2="555.1" y2="283.60" stroke="#333" stroke-width="1"/><text x="558.5" y="323.2">1.15740</text><line x1="553.5" y1="319.20" x2="555.1" y2="319.20" stroke="#333" stroke-width="1"/><text x="558.5" y="358.8">1.15505</text><line x1="553.5" y1="354.80" x2="555.1" y2="354.80" stroke="#333" stroke-width="1"/><text x="558.5" y="394.4">1.15270</text><line x1="553.5" y1="390.40" x2="555.1" y2="390.40" stroke="#333" stroke-width="1"/><text x="558.5" y="430.0">1.15035</text><line x1="553.5" y1="426.00" x2="555.1" y2="426.00" stroke="#333" stroke-width="1"/><line x1="553.5" y1="461.60" x2="555.1" y2="461.60" stroke="#333" stroke-width="1"/><text x="558.5" y="501.2">1.14565</text><line x1="553.5" y1="497.20" x2="555.1" y2="497.20" stroke="#333" stroke-width="1"/><text x="558.5" y="536.8">1.14330</text><line x1="553.5" y1="532.80" x2="555.1" y2="532.80" stroke="#333" stroke-width="1"/></g><rect x="555" y="297.0" width="40.4" height="10" fill="#008000"/><text x="557.6" y="305.6" font-family='"DejaVu Sans Condensed", "DejaVu Sans", "Liberation Sans", sans-serif' font-size="9.2" fill="#f2f7e6">1.15860</text><rect x="555" y="324.2" width="40.4" height="10" fill="#008000"/><text x="557.6" y="332.8" font-family='"DejaVu Sans Condensed", "DejaVu Sans", "Liberation Sans", sans-serif' font-size="9.2" fill="#f2f7e6">1.15680</text><rect x="555" y="352.7" width="40.4" height="10" fill="#008000"/><text x="557.6" y="361.3" font-family='"DejaVu Sans Condensed", "DejaVu Sans", "Liberation Sans", sans-serif' font-size="9.2" fill="#f2f7e6">1.15490</text><rect x="555" y="392.4" width="40.4" height="10" fill="#000000"/><text x="557.6" y="401.0" font-family='"DejaVu Sans Condensed", "DejaVu Sans", "Liberation Sans", sans-serif' font-size="9.2" fill="#f4f4f4">1.15225</text><rect x="555" y="429.8" width="40.4" height="10" fill="#ff0000"/><text x="557.6" y="438.4" font-family='"DejaVu Sans Condensed", "DejaVu Sans", "Liberation Sans", sans-serif' font-size="9.2" fill="#fff4f4">1.14980</text><rect x="555" y="458.8" width="40.4" height="10" fill="#ff0000"/><text x="557.6" y="467.4" font-family='"DejaVu Sans Condensed", "DejaVu Sans", "Liberation Sans", sans-serif' font-size="9.2" fill="#fff4f4">1.14790</text><rect x="555" y="485.4" width="40.4" height="10" fill="#ff0000"/><text x="557.6" y="494.0" font-family='"DejaVu Sans Condensed", "DejaVu Sans", "Liberation Sans", sans-serif' font-size="9.2" fill="#fff4f4">1.14610</text><g font-family='"DejaVu Sans Condensed", "DejaVu Sans", "Liberation Sans", sans-serif' font-size="9.2" fill="#303030"><text x="556" y="558.1">0.002665</text><text x="556" y="587.5">0.00</text><text x="555.6" y="620.8">-0.002928</text><text x="556" y="634.5">100</text><text x="556" y="654.6">70</text><text x="556" y="688.5">30</text><text x="556" y="708.5">0</text><text x="556" y="723.2">100</text><text x="556" y="730.6">80</text><text x="556" y="771.6">20</text><text x="556" y="779.6">0</text></g><g font-family='"DejaVu Sans Condensed", "DejaVu Sans", "Liberation Sans", sans-serif' font-size="9.2" fill="#303030"><text x="0" y="559.6">MACD(12,26,9) -0.002515 -0.002616</text><text x="0" y="636.4">RSI(14) 36.9696</text><text x="0" y="723.8">Stoch(5,3,3) 46.4135 42.6105</text></g><g font-family='"DejaVu Sans Condensed", "DejaVu Sans", "Liberation Sans", sans-serif' font-size="9.2" fill="#303030"><text x="-4.4" y="793.6">17 Oct 2025</text><text x="66" y="793.6">21 Oct 04:00</text><text x="135.7" y="793.6">23 Oct 04:00</text><text x="205.7" y="793.6">27 Oct 00:00</text><text x="275.5" y="793.6">29 Oct 00:00</text><text x="345" y="793.6">31 Oct 00:00</text><text x="415" y="793.6">3 Nov 20:00</text></g><line x1="66.5" y1="782" x2="66.5" y2="785" stroke="#333" stroke-width="1"/><line x1="136.3" y1="782" x2="136.3" y2="785" stroke="#333" stroke-width="1"/><line x1="206.3" y1="782" x2="206.3" y2="785" stroke="#333" stroke-width="1"/><line x1="276" y1="782" x2="276" y2="785" stroke="#333" stroke-width="1"/><line x1="345.5" y1="782" x2="345.5" y2="785" stroke="#333" stroke-width="1"/><line x1="415.5" y1="782" x2="415.5" y2="785" stroke="#333" stroke-width="1"/></svg>
</body></html>
